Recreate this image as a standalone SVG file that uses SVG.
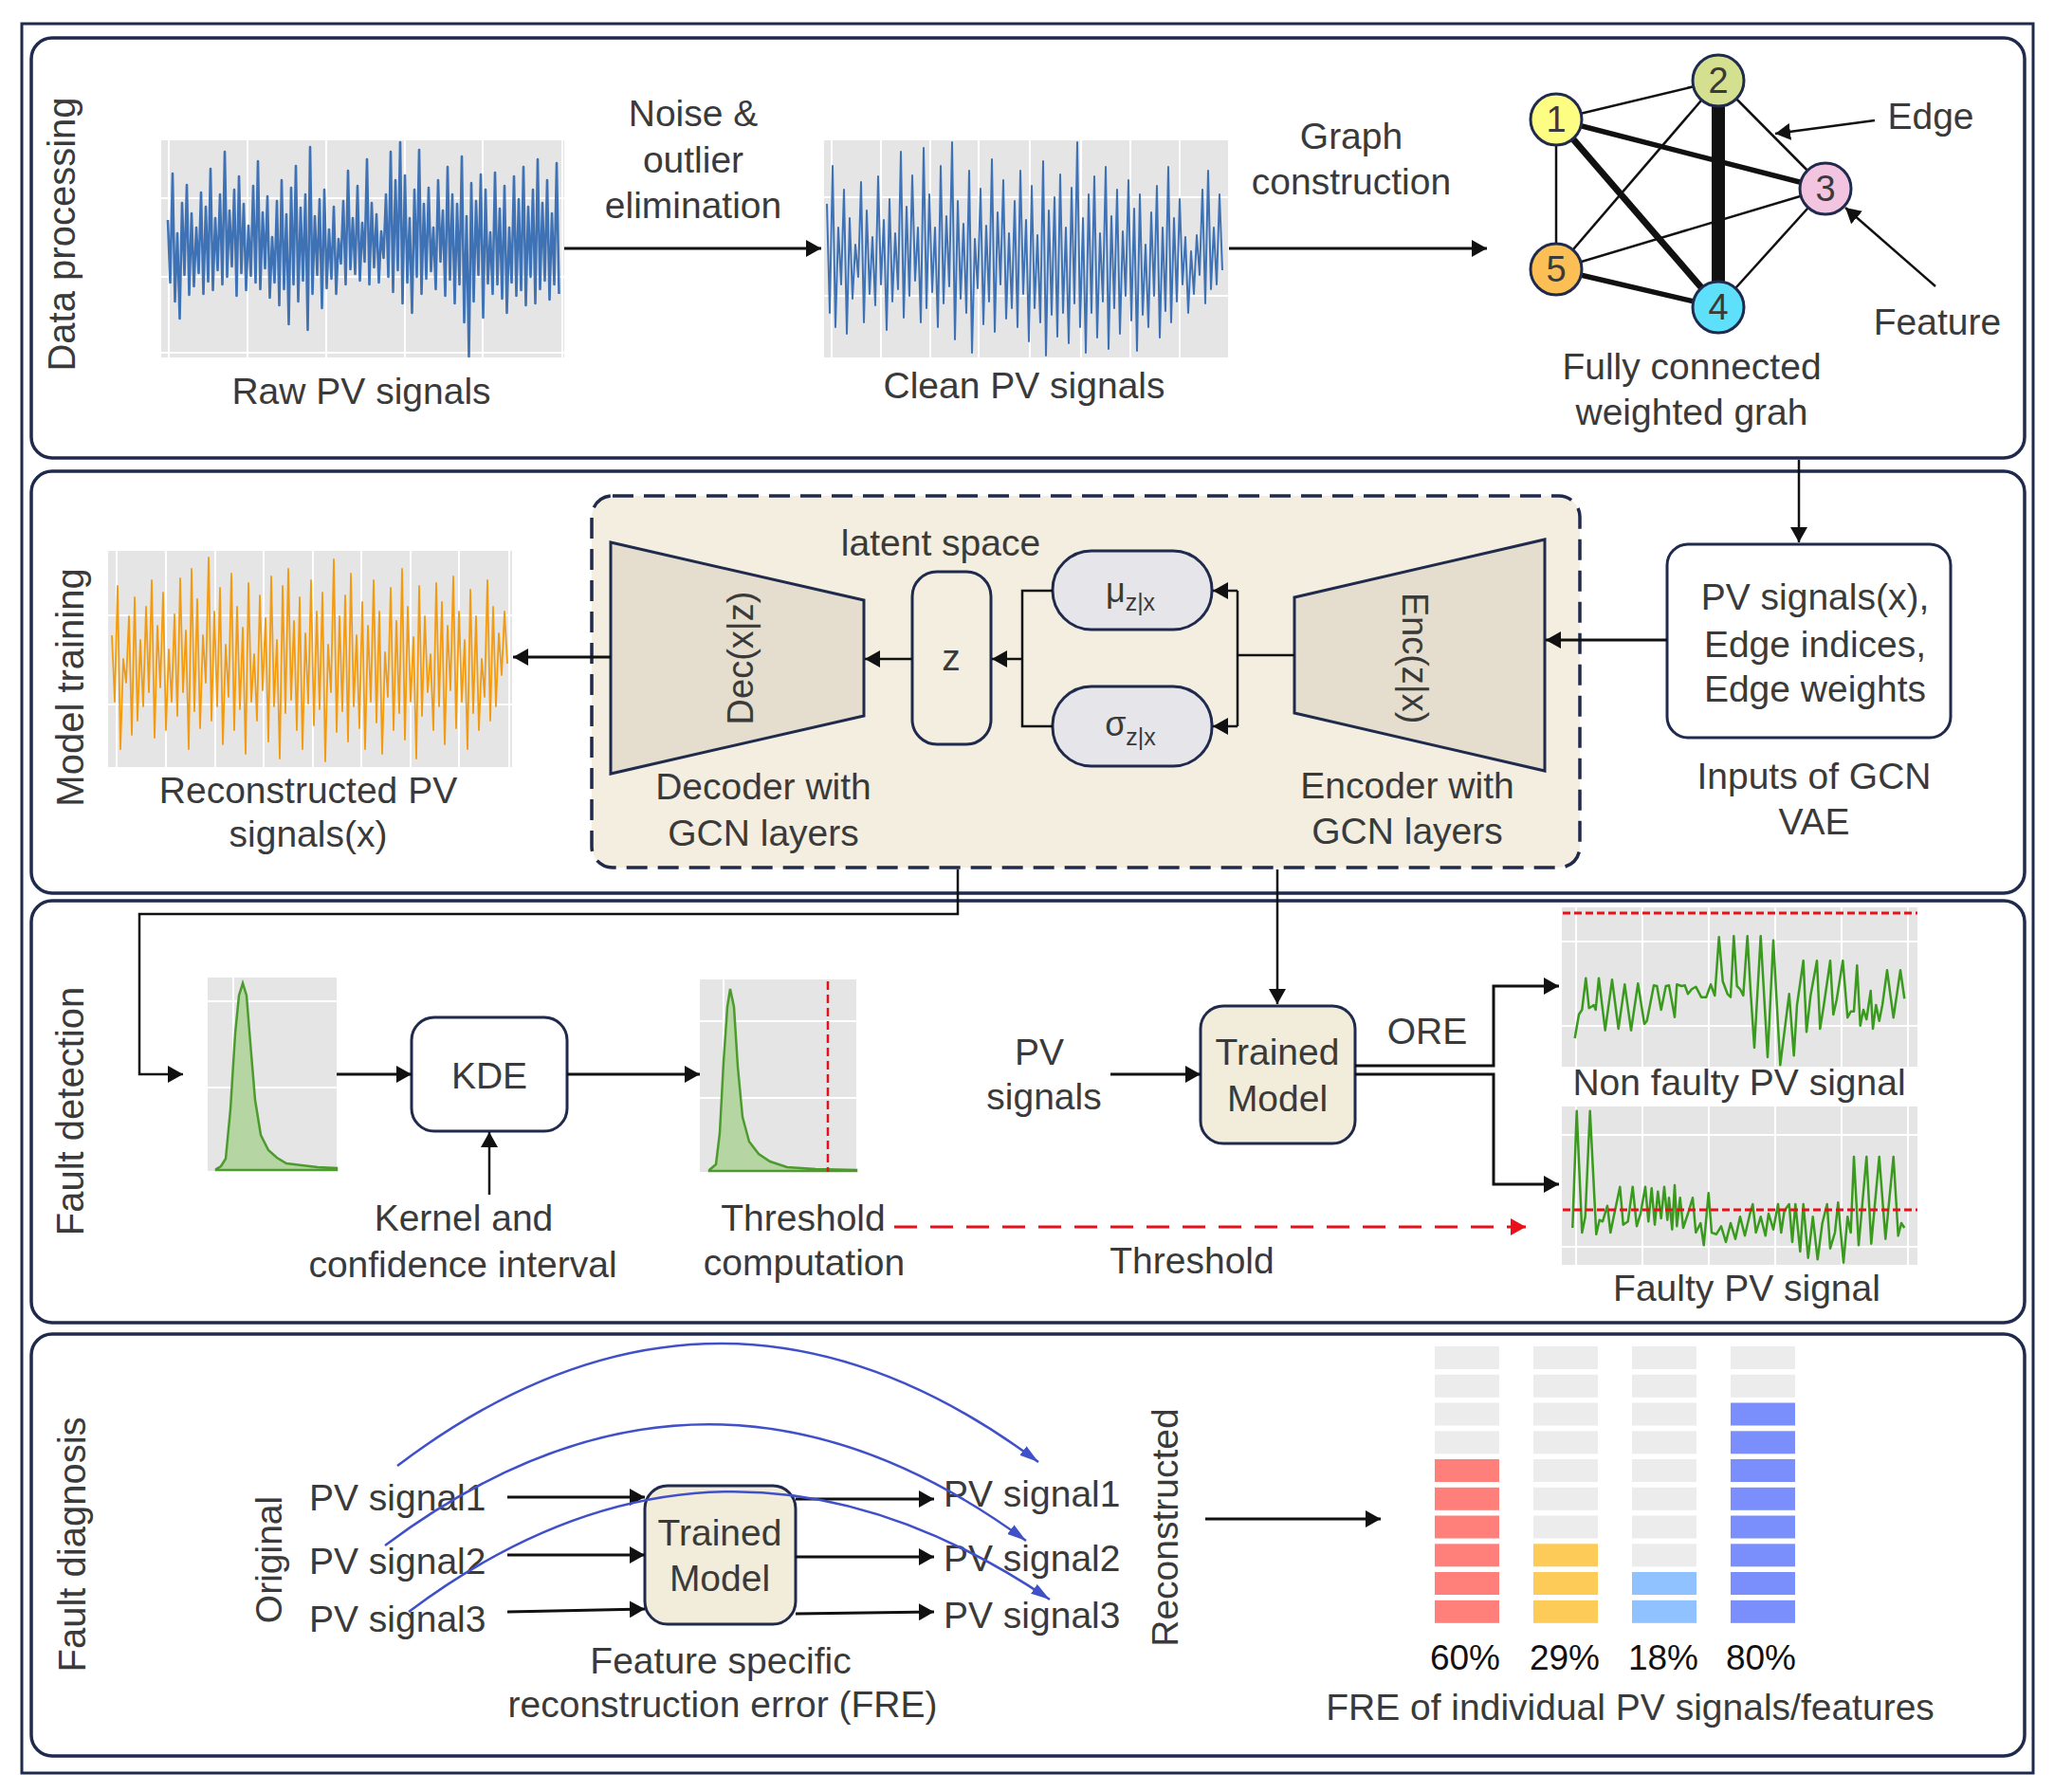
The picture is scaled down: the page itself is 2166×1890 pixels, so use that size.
<svg xmlns="http://www.w3.org/2000/svg" width="2166" height="1890" viewBox="0 0 2166 1890">
<style>
.t{font-family:"Liberation Sans",Arial,sans-serif;font-size:39px;fill:#3a3a3a;text-anchor:middle}
.tl{text-anchor:start}
.sec{font-size:40px}
.pct{fill:#111;font-size:37px}
.ln{fill:none;stroke:#111;stroke-width:3}
.thin{fill:none;stroke:#111;stroke-width:2.5}
.panel{fill:#fff;stroke:#1f2a4d;stroke-width:3.5}
.box{stroke:#1f2a4d;stroke-width:3}
.plot{fill:#e5e5e5}
.grid{stroke:#fff;stroke-width:2;fill:none}
.sig{fill:none;stroke-linejoin:round}
.node{stroke:#1f2a4d;stroke-width:3}
.edge{stroke:#111;fill:none}
.arc{fill:none;stroke:#4050c8;stroke-width:2.5}
.g0{fill:#ececec}
</style>
<defs>
<marker id="ar" viewBox="0 0 16 18" refX="16" refY="9" markerWidth="16" markerHeight="18" markerUnits="userSpaceOnUse" orient="auto"><path d="M0,0L16,9L0,18z" fill="#111"/></marker>
<marker id="arr" viewBox="0 0 16 18" refX="16" refY="9" markerWidth="16" markerHeight="18" markerUnits="userSpaceOnUse" orient="auto"><path d="M0,0L16,9L0,18z" fill="#e8101a"/></marker>
<marker id="arb" viewBox="0 0 20 12" refX="20" refY="6" markerWidth="20" markerHeight="12" markerUnits="userSpaceOnUse" orient="auto"><path d="M0,0L20,6L0,12z" fill="#4050c8"/></marker>
</defs>
<rect width="2166" height="1890" fill="#fff"/>
<rect x="23" y="25" width="2121" height="1845" fill="none" stroke="#1f2a4d" stroke-width="3"/>

<g id="panels">
<rect class="panel" x="33" y="40" width="2102" height="443" rx="22"/>
<rect class="panel" x="33" y="497" width="2102" height="445" rx="22"/>
<rect class="panel" x="33" y="950" width="2102" height="445" rx="22"/>
<rect class="panel" x="33" y="1407" width="2102" height="445" rx="22"/>
<text class="t sec" transform="translate(79,247) rotate(-90)">Data processing</text>
<text class="t sec" transform="translate(88,725) rotate(-90)">Model training</text>
<text class="t sec" transform="translate(88,1172) rotate(-90)">Fault detection</text>
<text class="t sec" transform="translate(90,1629) rotate(-90)">Fault diagnosis</text>
</g>

<!-- Section 1 -->
<g id="raw-signals">
<rect class="plot" x="170" y="148" width="425" height="229"/>
<path class="grid" d="M178,148V377M261,148V377M344,148V377M427,148V377M509,148V377M593,148V377M170,209H595M170,292H595M170,372H595"/>
<polyline class="sig" stroke="#3f72b5" stroke-width="2.6" points="177,232 179.5,298 182,183 184.5,318 187,246 189.5,336 192,214 194.5,290 197,195 199.5,311 202,225 204.5,302 207,240 209.5,288 212,203 214.5,310 217,218 219.5,297 222,178 224.5,306 227,230 229.5,285 232,205 234.5,300 237,160 239.5,292 242,222 244.5,281 247,200 249.5,312 252,186 254.5,288 257,215 259.5,306 262,238 264.5,291 267,196 269.5,298 272,170 274.5,305 277,224 279.5,283 282,207 284.5,314 287,250 289.5,298 292,212 294.5,322 297,190 299.5,305 302,226 304.5,342 307,198 309.5,300 312,175 314.5,318 317,219 319.5,296 322,205 324.5,348 327,155 329.5,310 332,228 334.5,290 337,210 339.5,325 342,200 344.5,304 347,242 349.5,294 352,218 354.5,310 357,252 359.5,278 362,212 364.5,300 367,180 369.5,284 372,230 374.5,289 377,196 379.5,296 382,235 384.5,276 387,168 389.5,300 392,214 394.5,282 397,226 399.5,298 402,244 404.5,272 407,205 409.5,292 412,160 414.5,308 417,190 419.5,285 422,150 424.5,320 427,185 429.5,298 432,230 434.5,330 437,200 439.5,292 442,158 444.5,310 447,215 449.5,294 452,198 454.5,286 457,240 459.5,305 462,190 464.5,276 467,222 469.5,312 472,176 474.5,295 477,205 479.5,320 482,215 484.5,300 487,165 489.5,340 492,228 494.5,376 497,193 499.5,318 502,212 504.5,290 507,184 509.5,335 512,200 514.5,299 517,245 519.5,310 522,182 524.5,300 527,220 529.5,315 532,196 534.5,330 537,240 539.5,298 542,186 544.5,312 547,210 549.5,306 552,176 554.5,322 557,218 559.5,292 562,200 564.5,320 567,168 569.5,305 572,214 574.5,296 577,190 579.5,316 582,225 584.5,300 587,172 589.5,310"/>
<text class="t" x="381" y="426">Raw PV signals</text>
</g>

<g id="step-labels">
<text class="t" x="731" y="133">Noise &amp;</text>
<text class="t" x="731" y="182">outlier</text>
<text class="t" x="731" y="230">elimination</text>
<text class="t" x="1425" y="157">Graph</text>
<text class="t" x="1425" y="205">construction</text>
</g>

<g id="clean-signals">
<rect class="plot" x="869" y="148" width="426" height="229"/>
<path class="grid" d="M877,148V377M929,148V377M981,148V377M1032,148V377M1086,148V377M1140,148V377M1192,148V377M1244,148V377M869,208H1295M869,312H1295"/>
<polyline class="sig" stroke="#3f72b5" stroke-width="2" points="872,215 875,330 878,175 881,345 884,240 887,300 890,200 893,352 896,230 899,315 902,258 905,292 908,192 911,340 914,222 917,310 920,250 923,322 926,186 929,300 932,232 935,348 938,210 941,318 944,246 947,305 950,160 953,335 956,218 959,312 962,185 965,296 968,240 971,340 974,156 977,325 980,205 983,308 986,240 989,345 992,175 995,320 998,228 1001,302 1004,150 1007,358 1010,212 1013,315 1016,236 1019,330 1022,180 1025,372 1028,252 1031,304 1034,199 1037,342 1040,238 1043,318 1046,168 1049,350 1052,224 1055,300 1058,190 1061,336 1064,246 1067,325 1070,212 1073,345 1076,180 1079,310 1082,232 1085,360 1088,196 1091,325 1094,248 1097,340 1100,170 1103,375 1106,222 1109,332 1112,208 1115,355 1118,184 1121,330 1124,240 1127,362 1130,198 1133,320 1136,150 1139,345 1142,230 1145,372 1148,205 1151,330 1154,186 1157,356 1160,246 1163,318 1166,176 1169,368 1172,228 1175,325 1178,200 1181,352 1184,244 1187,312 1190,190 1193,338 1196,220 1199,370 1202,205 1205,332 1208,258 1211,345 1214,224 1217,312 1220,196 1223,356 1226,240 1229,328 1232,176 1235,340 1238,230 1241,318 1244,210 1247,300 1250,250 1253,330 1256,265 1259,310 1262,248 1265,290 1268,200 1271,320 1274,180 1277,305 1280,240 1283,300 1286,205 1289,285"/>
<text class="t" x="1080" y="420">Clean PV signals</text>
</g>

<g id="graph">
<g fill="none" stroke="#111" stroke-linecap="butt">
<line x1="1641" y1="126" x2="1812" y2="85" stroke-width="2.5"/>
<line x1="1641" y1="126" x2="1641" y2="284" stroke-width="2.5"/>
<line x1="1812" y1="85" x2="1641" y2="284" stroke-width="2.5"/>
<line x1="1812" y1="85" x2="1925" y2="199" stroke-width="2.5"/>
<line x1="1925" y1="199" x2="1641" y2="284" stroke-width="2.5"/>
<line x1="1925" y1="199" x2="1812" y2="324" stroke-width="2.5"/>
<line x1="1641" y1="126" x2="1925" y2="199" stroke-width="5.5"/>
<line x1="1641" y1="126" x2="1812" y2="324" stroke-width="7"/>
<line x1="1641" y1="284" x2="1812" y2="324" stroke-width="5.5"/>
<line x1="1812" y1="85" x2="1812" y2="324" stroke-width="14"/>
</g>
<circle class="node" cx="1641" cy="126" r="27" fill="#fdfd84"/>
<circle class="node" cx="1812" cy="85" r="27" fill="#d4df8f"/>
<circle class="node" cx="1925" cy="199" r="27" fill="#f2c4df"/>
<circle class="node" cx="1812" cy="324" r="27" fill="#5fe0fa"/>
<circle class="node" cx="1641" cy="284" r="27" fill="#fbbf55"/>
<text class="t" x="1641" y="139" style="font-size:38px">1</text>
<text class="t" x="1812" y="98" style="font-size:38px">2</text>
<text class="t" x="1925" y="212" style="font-size:38px">3</text>
<text class="t" x="1812" y="337" style="font-size:38px">4</text>
<text class="t" x="1641" y="297" style="font-size:38px">5</text>
<line class="thin" x1="1977" y1="127" x2="1872" y2="141" marker-end="url(#ar)"/>
<line class="thin" x1="2041" y1="302" x2="1946" y2="219" marker-end="url(#ar)"/>
<text class="t" x="2036" y="136">Edge</text>
<text class="t" x="2043" y="353">Feature</text>
<text class="t" x="1784" y="400">Fully connected</text>
<text class="t" x="1784" y="448">weighted grah</text>
</g>

<!-- Section 2 -->
<g id="vae">
<rect x="624" y="523" width="1042" height="392" rx="22" fill="#f3eedf" stroke="#1f2a4d" stroke-width="3.5" stroke-dasharray="22 11"/>
<text class="t" x="992" y="586">latent space</text>
</g>
<g id="decoder">
<polygon class="box" points="644,572 911,633 911,755 644,816" fill="#e5ddcd"/>
<text class="t" transform="translate(794,694) rotate(-90)" style="font-size:38px">Dec(x|z)</text>
<text class="t" x="805" y="843">Decoder with</text>
<text class="t" x="805" y="892">GCN layers</text>
</g>
<g id="z-node">
<rect class="box" x="962" y="603" width="83" height="182" rx="26" fill="#f3eedf"/>
<text class="t" x="1003" y="707">z</text>
</g>
<g id="mu-node">
<rect class="box" x="1110" y="581" width="168" height="83" rx="41" fill="#e5e5ea"/>
<text class="t" x="1192" y="635" style="font-size:36px">μ<tspan dy="9" style="font-size:25px">z|x</tspan></text>
</g>
<g id="sigma-node">
<rect class="box" x="1110" y="724" width="168" height="84" rx="41" fill="#e5e5ea"/>
<text class="t" x="1192" y="776" style="font-size:36px">σ<tspan dy="10" style="font-size:25px">z|x</tspan></text>
</g>
<g id="encoder">
<polygon class="box" points="1365,630 1629,569 1629,813 1365,752" fill="#e5ddcd"/>
<text class="t" transform="translate(1479,694) rotate(90)" style="font-size:38px">Enc(z|x)</text>
<text class="t" x="1484" y="842">Encoder with</text>
<text class="t" x="1484" y="890">GCN layers</text>
</g>
<g id="inputs">
<rect class="box" x="1758" y="574" width="299" height="204" rx="22" fill="#fff"/>
<text class="t" x="1914" y="643">PV signals(x),</text>
<text class="t" x="1914" y="693">Edge indices,</text>
<text class="t" x="1914" y="740">Edge weights</text>
<text class="t" x="1913" y="832">Inputs of GCN</text>
<text class="t" x="1913" y="880">VAE</text>
</g>
<g id="recon-signals">
<rect class="plot" x="114" y="581" width="426" height="228"/>
<path class="grid" d="M123,581V809M175,581V809M227,581V809M278,581V809M330,581V809M381,581V809M433,581V809M484,581V809M537,581V809M114,649H540M114,743H540"/>
<polyline class="sig" stroke="#f29b11" stroke-width="1.8" points="118,670 121,740 124,618 127,790 130,695 133,720 136,650 139,775 142,630 145,760 148,675 151,745 154,640 157,730 160,612 163,778 166,660 169,725 172,625 175,770 178,685 181,740 184,648 187,755 190,610 193,730 196,665 199,790 202,600 205,750 208,632 211,768 214,670 217,720 220,588 223,760 226,645 229,745 232,620 235,785 238,680 241,735 244,605 247,770 250,640 253,748 256,662 259,795 262,615 265,740 268,690 271,760 274,628 277,728 280,652 283,782 286,608 289,745 292,675 295,800 298,618 301,752 304,600 307,738 310,655 313,770 316,630 319,790 322,668 325,742 328,612 331,765 334,645 337,748 340,625 343,803 346,680 349,730 352,590 355,772 358,650 361,750 364,628 367,782 370,605 373,745 376,670 379,768 382,635 385,790 388,660 391,740 394,612 397,762 400,645 403,795 406,688 409,735 412,620 415,770 418,655 421,752 424,600 427,780 430,640 433,740 436,672 439,800 442,618 445,755 448,650 451,730 454,690 457,770 460,615 463,745 466,635 469,785 472,660 475,728 478,608 481,768 484,645 487,740 490,675 493,790 496,622 499,752 502,650 505,770 508,695 511,735 514,612 517,760 520,640 523,745 526,668 529,712 532,645 535,700"/>
<text class="t" x="325" y="847">Reconstructed PV</text>
<text class="t" x="325" y="893">signals(x)</text>
</g>

<!-- Section 3 -->
<g id="hist1">
<rect class="plot" x="219" y="1031" width="136" height="204"/>
<path class="grid" d="M246,1031V1235M219,1056H355M219,1147H355"/>
<path d="M228,1233 L233,1230 L238,1222 L243,1170 L248,1090 L252,1050 L256,1037 L260,1050 L264,1100 L269,1160 L275,1197 L283,1213 L292,1221 L302,1227 L318,1229 L335,1231 L355,1232 L355,1234 L228,1234z" fill="#b5d6a2" stroke="#4d9a2e" stroke-width="2.5"/>
</g>
<g id="kde">
<rect class="box" x="434" y="1073" width="164" height="120" rx="24" fill="#fff"/>
<text class="t" x="516" y="1148">KDE</text>
<text class="t" x="489" y="1298">Kernel and</text>
<text class="t" x="488" y="1347">confidence interval</text>
</g>
<g id="hist2">
<rect class="plot" x="738" y="1033" width="165" height="203"/>
<path class="grid" d="M763,1033V1236M738,1077H903M738,1158H903"/>
<path d="M748,1234 L755,1228 L759,1195 L763,1120 L767,1062 L770,1043 L774,1062 L778,1125 L783,1178 L790,1204 L800,1217 L812,1225 L830,1231 L860,1233 L903,1234 L903,1235 L748,1235z" fill="#b5d6a2" stroke="#4d9a2e" stroke-width="2.5"/>
<line x1="873" y1="1035" x2="873" y2="1236" stroke="#e8101a" stroke-width="2.5" stroke-dasharray="9 5"/>
<text class="t" x="847" y="1298">Threshold</text>
<text class="t" x="848" y="1345">computation</text>
</g>
<g id="trained-model-1">
<rect class="box" x="1266" y="1061" width="163" height="145" rx="24" fill="#f2ecda"/>
<text class="t" x="1347" y="1123">Trained</text>
<text class="t" x="1347" y="1172">Model</text>
<text class="t" x="1096" y="1123">PV</text>
<text class="t" x="1101" y="1170">signals</text>
<text class="t" x="1505" y="1101">ORE</text>
<text class="t" x="1257" y="1343">Threshold</text>
</g>
<g id="nonfaulty-plot">
<rect class="plot" x="1647" y="957" width="375" height="168"/>
<path class="grid" d="M1662,957V1125M1732,957V1125M1802,957V1125M1872,957V1125M1942,957V1125M2012,957V1125M1647,993H2022M1647,1082H2022"/>
<line x1="1648" y1="963" x2="2022" y2="963" stroke="#e8101a" stroke-width="3" stroke-dasharray="8 4"/>
<polyline class="sig" stroke="#3a9a1e" stroke-width="2.5" points="1660.7,1095 1665,1070 1668.3,1065 1672.3,1031.7 1675.7,1063.3 1678.3,1061.7 1680.7,1060 1682.7,1065 1686,1031.7 1692.7,1086.7 1700,1033.3 1706.7,1085 1713.3,1038.3 1720,1086.7 1727.3,1037.3 1734,1080 1736.7,1076.7 1744,1039.3 1747.3,1040 1751.7,1065 1756.7,1040 1760,1039.3 1766,1072.7 1768.3,1038.3 1773.3,1040 1776.7,1039.3 1780,1048.3 1784,1043.3 1788.3,1040.7 1794,1051.7 1799.3,1051.7 1804,1038.3 1808.3,1050 1812.7,988.3 1816.7,1035 1821.7,1048.3 1825,1051.7 1828.3,987.3 1831.7,1040 1835,1043.3 1838.3,1050 1842.7,987.3 1846,1045 1850,1105 1856.7,987.3 1864,1115 1870,991.7 1877.3,1123.3 1886.7,1048.3 1891.7,1113.3 1895,1060 1901.7,1013.3 1905,1088.3 1909.3,1050 1916,1013.3 1919.3,1085 1923.3,1060 1930,1013.3 1933.3,1070 1936.7,1055 1943.3,1013.3 1948.3,1073.3 1951.7,1066.7 1955,1066.7 1958.3,1018.3 1961.7,1081.7 1965,1065 1968.3,1075 1972.7,1045 1975,1085 1978.3,1060 1981.7,1076.7 1985,1060 1990,1023.3 1996.7,1073.3 2004,1023.3 2008.3,1053.3"/>
<text class="t" x="1834" y="1155">Non faulty PV signal</text>
</g>
<g id="faulty-plot">
<rect class="plot" x="1647" y="1167" width="375" height="167"/>
<path class="grid" d="M1662,1167V1334M1732,1167V1334M1802,1167V1334M1872,1167V1334M1942,1167V1334M2012,1167V1334M1647,1197H2022M1647,1315H2022"/>
<polyline class="sig" stroke="#3a9a1e" stroke-width="2.5" points="1658.3,1295 1662.7,1171.7 1668.3,1300 1671.7,1283.3 1676.7,1171.7 1683.3,1301.7 1686.7,1286.7 1690,1288.3 1695,1271.7 1698.3,1300 1701.7,1283.3 1708.3,1251.7 1711.7,1291.7 1716.7,1288.3 1721.7,1251.7 1726,1293.3 1730,1280 1735,1251.7 1738.3,1288.3 1741.7,1253.3 1745,1291.7 1748.3,1256.7 1751.7,1285 1755,1251.7 1758.3,1286.7 1760,1263.3 1763.3,1296.7 1766,1250 1768.3,1293.3 1771.7,1263.3 1775,1295 1780,1280 1785,1263.3 1788.3,1300 1793.3,1290 1796.7,1313.3 1801.7,1258.3 1805,1300 1810,1301.7 1815,1293.3 1820,1310 1825,1290 1830,1306.7 1835,1283.3 1840,1303.3 1845,1281.7 1848.3,1270 1851.7,1300 1856.7,1283.3 1861.7,1303.3 1865,1280 1870,1296.7 1875,1270 1878.3,1300 1881.7,1276.7 1886.7,1270 1890,1310 1893.3,1270 1898.3,1320 1901.7,1270 1906.7,1326.7 1911.7,1283.3 1916.7,1328.3 1921.7,1290 1926.7,1270 1930,1316.7 1935,1300 1938.3,1268.3 1944,1331.7 1948.3,1283.3 1951.7,1300 1955,1220 1960,1313.3 1968.3,1220 1973.3,1311.7 1981.7,1220 1988.3,1306.7 1996.7,1220 2001.7,1303.3 2005,1290 2008.3,1295"/>
<line x1="1648" y1="1276" x2="2022" y2="1276" stroke="#e8101a" stroke-width="3" stroke-dasharray="8 4"/>
<text class="t" x="1842" y="1372">Faulty PV signal</text>
</g>

<!-- Section 4 -->
<g id="orig-signals">
<text class="t" transform="translate(297,1645) rotate(-90)">Original</text>
<text class="t tl" x="326" y="1593">PV signal1</text>
<text class="t tl" x="326" y="1660">PV signal2</text>
<text class="t tl" x="326" y="1721">PV signal3</text>
</g>
<g id="trained-model-2">
<rect class="box" x="680" y="1567" width="159" height="146" rx="24" fill="#f2ecda"/>
<text class="t" x="759" y="1630">Trained</text>
<text class="t" x="759" y="1678">Model</text>
<text class="t" x="760" y="1765">Feature specific</text>
<text class="t" x="762" y="1811">reconstruction error (FRE)</text>
</g>
<g id="recon-labels">
<text class="t tl" x="995" y="1589">PV signal1</text>
<text class="t tl" x="995" y="1657">PV signal2</text>
<text class="t tl" x="995" y="1717">PV signal3</text>
<text class="t" transform="translate(1242,1611) rotate(-90)">Reconstructed</text>
</g>
<g id="fre-bars">
<g class="g0">
<rect x="1513" y="1420" width="68" height="24"/><rect x="1513" y="1449.8" width="68" height="24"/><rect x="1513" y="1479.5" width="68" height="24"/><rect x="1513" y="1509.3" width="68" height="24"/>
<rect x="1617" y="1420" width="68" height="24"/><rect x="1617" y="1449.8" width="68" height="24"/><rect x="1617" y="1479.5" width="68" height="24"/><rect x="1617" y="1509.3" width="68" height="24"/><rect x="1617" y="1539" width="68" height="24"/><rect x="1617" y="1568.8" width="68" height="24"/><rect x="1617" y="1598.5" width="68" height="24"/>
<rect x="1721" y="1420" width="68" height="24"/><rect x="1721" y="1449.8" width="68" height="24"/><rect x="1721" y="1479.5" width="68" height="24"/><rect x="1721" y="1509.3" width="68" height="24"/><rect x="1721" y="1539" width="68" height="24"/><rect x="1721" y="1568.8" width="68" height="24"/><rect x="1721" y="1598.5" width="68" height="24"/><rect x="1721" y="1628.3" width="68" height="24"/>
<rect x="1825" y="1420" width="68" height="24"/><rect x="1825" y="1449.8" width="68" height="24"/>
</g>
<g fill="#ff7f7b">
<rect x="1513" y="1539" width="68" height="24"/><rect x="1513" y="1568.8" width="68" height="24"/><rect x="1513" y="1598.5" width="68" height="24"/><rect x="1513" y="1628.3" width="68" height="24"/><rect x="1513" y="1658" width="68" height="24"/><rect x="1513" y="1687.8" width="68" height="24"/>
</g>
<g fill="#fdcb57">
<rect x="1617" y="1628.3" width="68" height="24"/><rect x="1617" y="1658" width="68" height="24"/><rect x="1617" y="1687.8" width="68" height="24"/>
</g>
<g fill="#8fc2ff">
<rect x="1721" y="1658" width="68" height="24"/><rect x="1721" y="1687.8" width="68" height="24"/>
</g>
<g fill="#7b8ffc">
<rect x="1825" y="1479.5" width="68" height="24"/><rect x="1825" y="1509.3" width="68" height="24"/><rect x="1825" y="1539" width="68" height="24"/><rect x="1825" y="1568.8" width="68" height="24"/><rect x="1825" y="1598.5" width="68" height="24"/><rect x="1825" y="1628.3" width="68" height="24"/><rect x="1825" y="1658" width="68" height="24"/><rect x="1825" y="1687.8" width="68" height="24"/>
</g>
<text class="t pct" x="1545" y="1761">60%</text>
<text class="t pct" x="1650" y="1761">29%</text>
<text class="t pct" x="1754" y="1761">18%</text>
<text class="t pct" x="1857" y="1761">80%</text>
<text class="t" x="1719" y="1814">FRE of individual PV signals/features</text>
</g>

<g id="connectors">
<path class="ln" d="M595,262H866" marker-end="url(#ar)"/>
<path class="ln" d="M1296,262H1568" marker-end="url(#ar)"/>
<path class="thin" d="M1897,485V572" marker-end="url(#ar)"/>
<path class="ln" d="M1758,675H1630" marker-end="url(#ar)"/>
<path class="thin" d="M1365,691H1305M1305,623V766"/>
<path class="thin" d="M1305,623H1279" marker-end="url(#ar)"/>
<path class="thin" d="M1305,766H1279" marker-end="url(#ar)"/>
<path class="thin" d="M1110,623H1078V766H1110"/>
<path class="thin" d="M1078,695H1046" marker-end="url(#ar)"/>
<path class="thin" d="M962,695H912" marker-end="url(#ar)"/>
<path class="ln" d="M644,693H541" marker-end="url(#ar)"/>
<path class="thin" d="M1010,917V964H147V1133H193" marker-end="url(#ar)"/>
<path class="ln" d="M355,1133H434" marker-end="url(#ar)"/>
<path class="ln" d="M598,1133H738" marker-end="url(#ar)"/>
<path class="thin" d="M516,1260V1194" marker-end="url(#ar)"/>
<path class="thin" d="M1347,917V1059" marker-end="url(#ar)"/>
<path class="ln" d="M1171,1133H1266" marker-end="url(#ar)"/>
<path class="ln" d="M1429,1124H1575V1040H1644" marker-end="url(#ar)"/>
<path class="ln" d="M1429,1133H1575V1249H1644" marker-end="url(#ar)"/>
<path d="M943,1294H1609" fill="none" stroke="#e8101a" stroke-width="3" stroke-dasharray="24 14" marker-end="url(#arr)"/>
<path class="ln" d="M535,1579H680" marker-end="url(#ar)"/>
<path class="ln" d="M535,1640H680" marker-end="url(#ar)"/>
<path class="ln" d="M535,1700L680,1697" marker-end="url(#ar)"/>
<path class="ln" d="M839,1581H985" marker-end="url(#ar)"/>
<path class="ln" d="M839,1642H985" marker-end="url(#ar)"/>
<path class="ln" d="M839,1702L985,1700" marker-end="url(#ar)"/>
<path class="ln" d="M1271,1602H1456" marker-end="url(#ar)"/>
<path class="arc" d="M419,1546Q757,1290 1095,1542" marker-end="url(#arb)"/>
<path class="arc" d="M406,1630Q744,1377 1082,1625" marker-end="url(#arb)"/>
<path class="arc" d="M431,1700Q760,1453 1107,1687" marker-end="url(#arb)"/>
</g>
</svg>
